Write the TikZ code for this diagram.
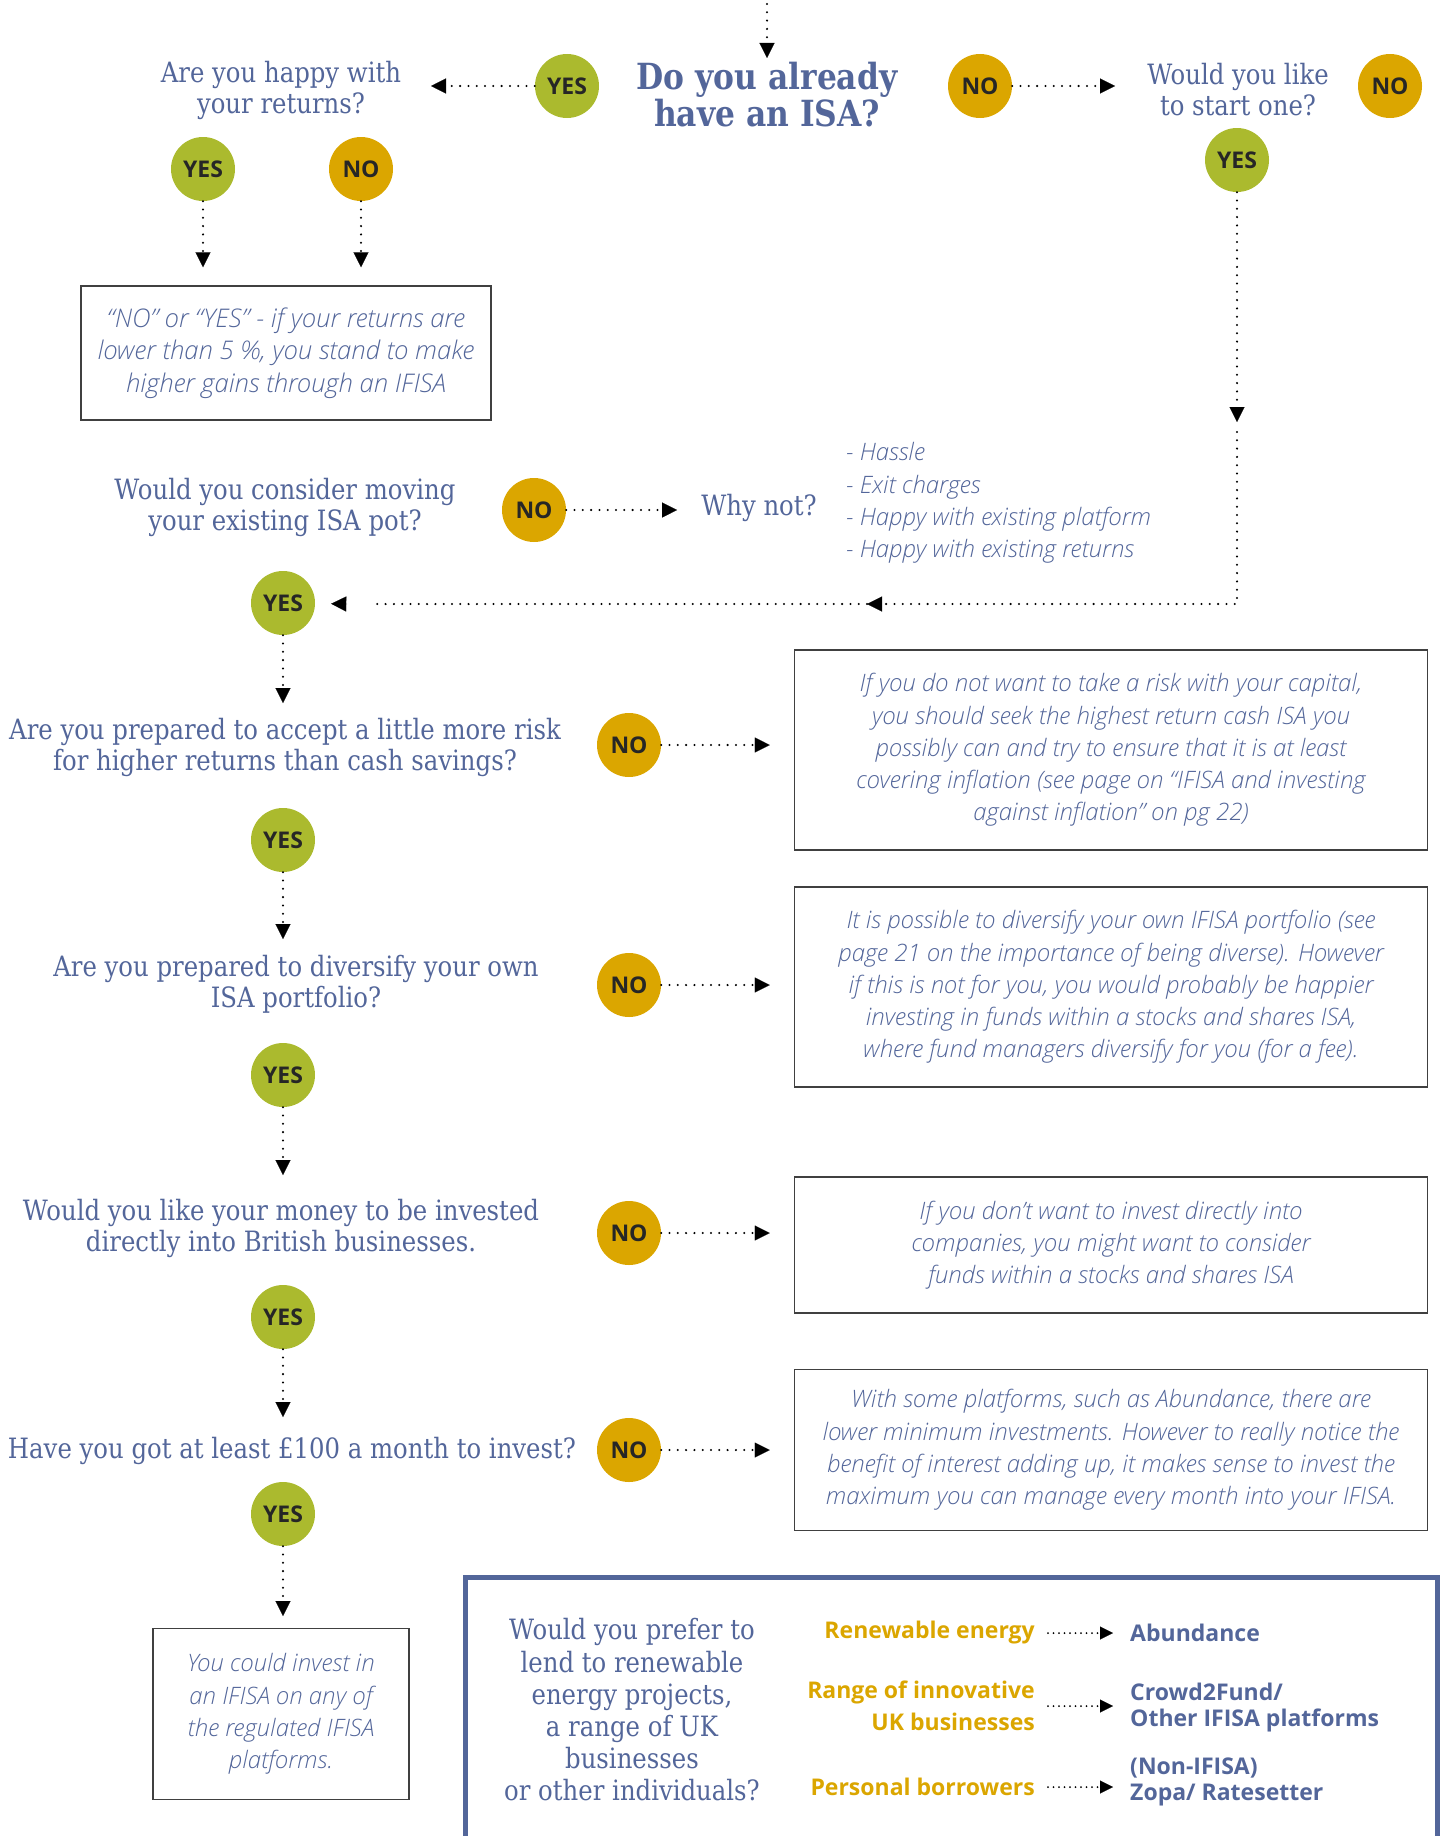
\documentclass[tikz,border=0pt]{standalone}
\usepackage{fontspec}
\setmainfont{Open Sans}
\newfontfamily\slabfont[FakeStretch=0.87]{DejaVu Serif}
\IfFontExistsTF{Open Sans Light Italic}
  {\newfontfamily\notefont{Open Sans Light Italic}}
  {\newfontfamily\notefont{Open Sans Italic}}
\usetikzlibrary{arrows.meta}

\definecolor{qblue}{HTML}{53669A}
\definecolor{yesgreen}{HTML}{ABBA2E}
\definecolor{noorange}{HTML}{DBA600}
\definecolor{boxline}{HTML}{404040}

\tikzset{
  question/.style={text=qblue, align=center, inner sep=0pt, font=\slabfont\fontsize{28}{31}\selectfont},
  headline/.style={question, font=\slabfont\bfseries\fontsize{36}{37}\selectfont},
  answer/.style={circle, inner sep=0pt, minimum size=64pt, text=black!85, font=\bfseries\fontsize{23}{23}\selectfont},
  yesdot/.style={answer, fill=yesgreen},
  nodot/.style={answer, fill=noorange},
  notebox/.style={draw=boxline, line width=1.5pt, text=qblue, align=center, inner sep=0pt, font=\notefont\fontsize{24}{32.3}\selectfont},
  note/.style={text=qblue, align=left, inner sep=0pt, font=\notefont\fontsize{24}{32.3}\selectfont},
  choice/.style={text=noorange, align=right, inner sep=0pt, font=\bfseries\fontsize{23}{32}\selectfont},
  platform/.style={text=qblue, align=left, inner sep=0pt, font=\bfseries\fontsize{23}{26}\selectfont},
  dotline/.style={line width=2.3pt, line cap=round, dash pattern=on 0pt off 8.3pt},
  flow/.style={dotline, -{Triangle[length=15pt, width=15pt, line width=0.1pt]}},
  smallflow/.style={line width=2pt, line cap=round, dash pattern=on 0pt off 5.5pt, -{Triangle[length=13pt, width=13pt, line width=0.1pt]}},
  lonetip/.style={line width=0.1pt, -{Triangle[length=15pt, width=15pt, line width=0.1pt]}},
  panel/.style={draw=qblue, line width=5pt}
}

\begin{document}
\begin{tikzpicture}[x=1pt, y=-1pt]
\useasboundingbox (0,0) rectangle (1443,1836);

% top row
\coordinate (entry) at (767,4);
\coordinate (isatip) at (767,58);
\node[headline] (isa) at (767,95) {Do you already\\have an ISA?};
\draw[flow] (entry) -- (isatip);

\node[yesdot] (yes1) at (567,86) {YES};
\node[question] (happy) at (281,90) {Are you happy with\\your returns?};
\coordinate (happytip) at (431,86);
\draw[flow] (yes1) -- (happytip);

\node[nodot] (no1) at (980,86) {NO};
\node[question] (start) at (1238,90) {Would you like\\to start one?};
\coordinate (starttip) at (1115,86);
\draw[flow] (no1) -- (starttip);
\node[nodot] (no2) at (1390,86) {NO};
\node[yesdot] (yes2) at (1237,160) {YES};

% happy with returns
\node[yesdot] (yes3) at (203,169) {YES};
\node[nodot] (no3) at (361,169) {NO};
\node[notebox, minimum width=410pt, minimum height=134pt, font=\notefont\fontsize{25.7}{32.3}\selectfont] (gains) at (286,353)
  {“NO” or “YES” - if your returns are\\lower than 5 \%, you stand to make\\higher gains through an IFISA};
\draw[flow, shorten >=18pt] (yes3) -- (yes3 |- gains.north);
\draw[flow, shorten >=18pt] (no3) -- (no3 |- gains.north);

% moving the pot
\node[question] (move) at (285,507) {Would you consider moving\\your existing ISA pot?};
\node[nodot] (no4) at (534,510) {NO};
\node[question] (whynot) at (759,508) {Why not?};
\draw[flow, shorten >=24pt] (no4) -- (no4 -| whynot.west);
\node[note, anchor=west] (reasons) at (846,503)
  {- Hassle\\- Exit charges\\- Happy with existing platform\\- Happy with existing returns};

% way back from the right
\coordinate (down) at (1237,422);
\coordinate (below) at (1237,432);
\coordinate (turn) at (1237,604);
\coordinate (join) at (867,604);
\coordinate (gapend) at (372,604);
\coordinate (lone) at (347,604);
\draw[flow] (yes2) -- (down);
\draw[flow] (below) -- (turn) -- (join);
\draw[dotline] (join) -- (gapend);
\node[yesdot] (yes5) at (283,603) {YES};
\draw[lonetip, shorten >=16pt] (lone) -- (yes5);

% risk
\coordinate (risktip) at (283,703);
\draw[flow] (yes5) -- (risktip);
\node[question] (risk) at (285,747) {Are you prepared to accept a little more risk\\for higher returns than cash savings?};
\node[nodot] (no5) at (629,745) {NO};
\node[notebox, minimum width=633pt, minimum height=200pt] (cash) at (1111,750)
  {If you do not want to take a risk with your capital,\\you should seek the highest return cash ISA you\\possibly can and try to ensure that it is at least\\covering inflation (see page on “IFISA and investing\\against inflation” on pg 22)};
\draw[flow, shorten >=24pt] (no5) -- (no5 -| cash.west);

% diversify
\node[yesdot] (yes6) at (283,840) {YES};
\coordinate (diversetip) at (283,939);
\draw[flow] (yes6) -- (diversetip);
\node[question] (diverse) at (296,984) {Are you prepared to diversify your own\\ISA portfolio?};
\node[nodot] (no6) at (629,985) {NO};
\node[notebox, minimum width=633pt, minimum height=200pt] (funds) at (1111,987)
  {It is possible to diversify your own IFISA portfolio (see\\page 21 on the importance of being diverse). However\\if this is not for you, you would probably be happier\\investing in funds within a stocks and shares ISA,\\where fund managers diversify for you (for a fee).};
\draw[flow, shorten >=24pt] (no6) -- (no6 -| funds.west);

% british businesses
\node[yesdot] (yes7) at (283,1075) {YES};
\coordinate (britishtip) at (283,1175);
\draw[flow] (yes7) -- (britishtip);
\node[question] (british) at (281,1228) {Would you like your money to be invested\\directly into British businesses.};
\node[nodot] (no7) at (629,1233) {NO};
\node[notebox, minimum width=633pt, minimum height=136pt] (direct) at (1111,1245)
  {If you don’t want to invest directly into\\companies, you might want to consider\\funds within a stocks and shares ISA};
\draw[flow, shorten >=24pt] (no7) -- (no7 -| direct.west);

% monthly amount
\node[yesdot] (yes8) at (283,1317) {YES};
\coordinate (monthtip) at (283,1417);
\draw[flow] (yes8) -- (monthtip);
\node[question] (month) at (292,1451) {Have you got at least £100 a month to invest?};
\node[nodot] (no8) at (629,1450) {NO};
\node[notebox, minimum width=633pt, minimum height=161pt] (minimum) at (1111,1450)
  {With some platforms, such as Abundance, there are\\lower minimum investments. However to really notice the\\benefit of interest adding up, it makes sense to invest the\\maximum you can manage every month into your IFISA.};
\draw[flow, shorten >=24pt] (no8) -- (no8 -| minimum.west);

\node[yesdot] (yes9) at (283,1514) {YES};
\coordinate (investtip) at (283,1616);
\draw[flow] (yes9) -- (investtip);
\node[notebox, minimum width=256pt, minimum height=171pt] (invest) at (281,1714)
  {You could invest in\\an IFISA on any of\\the regulated IFISA\\platforms.};

% platforms panel
\draw[panel] (465,1900) -- (465,1577) -- (1437,1577) -- (1437,1900);
\node[question, font=\slabfont\fontsize{28}{32.2}\selectfont] (prefer) at (632,1710)
  {Would you prefer to\\lend to renewable\\energy projects,\\a range of UK\\businesses\\or other individuals?};
\node[choice, anchor=east] (renew) at (1035,1633) {Renewable energy};
\node[choice, anchor=east] (range) at (1035,1706) {Range of innovative\\UK businesses};
\node[choice, anchor=east] (persons) at (1035,1787) {Personal borrowers};
\node[platform, anchor=west] (abund) at (1130,1633) {Abundance};
\node[platform, anchor=west] (crowd) at (1130,1708) {Crowd2Fund/\\Other IFISA platforms};
\node[platform, anchor=west] (zopa) at (1130,1782) {(Non-IFISA)\\Zopa/ Ratesetter};
\draw[smallflow, shorten <=13pt, shorten >=17pt] (renew.east) -- (abund.west);
\draw[smallflow, shorten <=13pt, shorten >=17pt] (range.east) -- (range.east -| crowd.west);
\draw[smallflow, shorten <=13pt, shorten >=17pt] (persons.east) -- (persons.east -| zopa.west);
\end{tikzpicture}
\end{document}
